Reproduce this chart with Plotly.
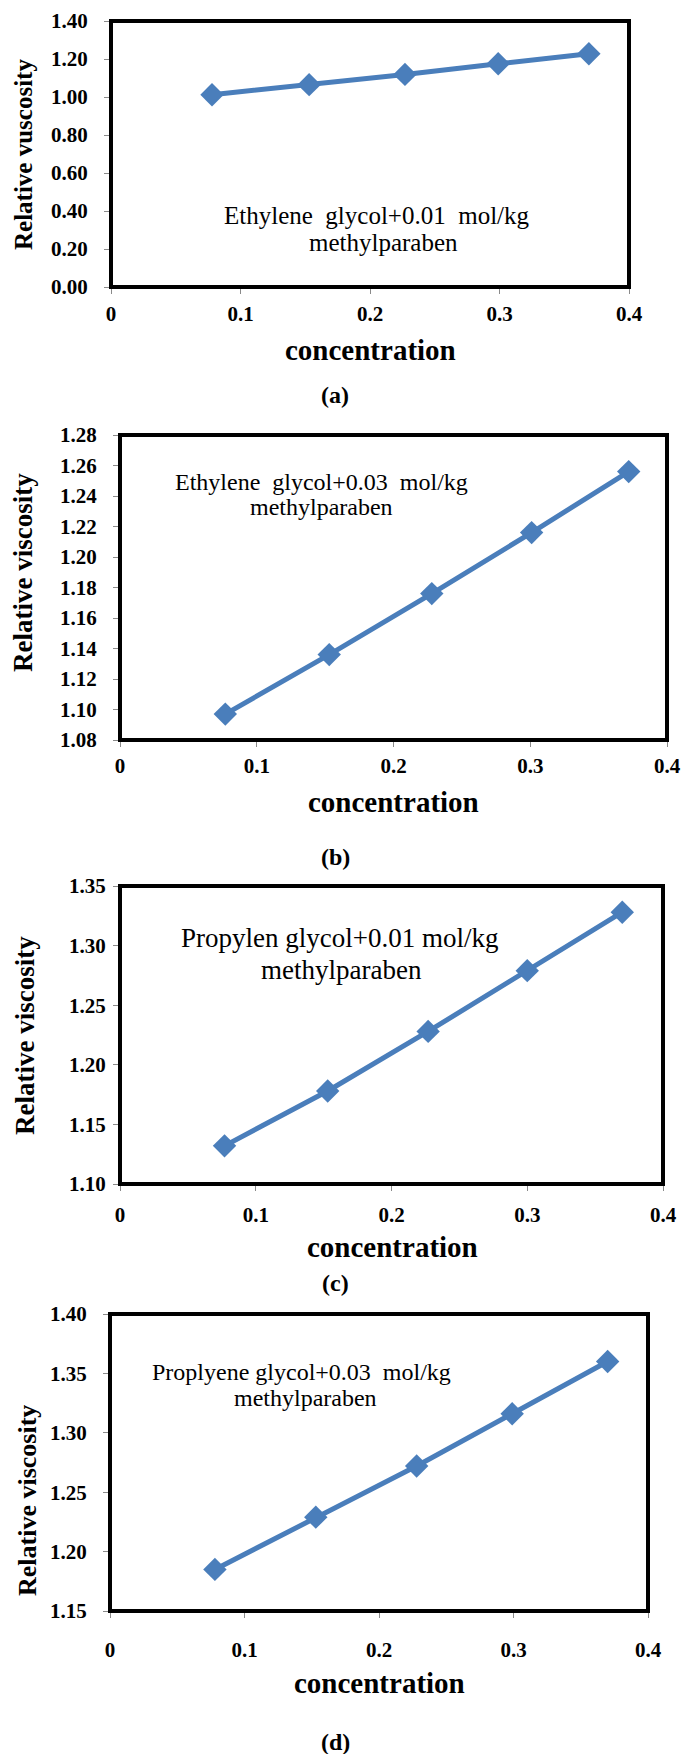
import plotly.graph_objects as go

W, H = 686, 1754

# concentration (x) and relative viscosity (y)
conc_a = [0.078, 0.153, 0.227, 0.299, 0.369]
visc_a = [1.012, 1.065, 1.119, 1.175, 1.228]
conc_b = [0.077, 0.153, 0.228, 0.301, 0.372]
visc_b = [1.097, 1.136, 1.176, 1.216, 1.256]
conc_c = [0.077, 0.153, 0.227, 0.300, 0.370]
visc_c = [1.132, 1.178, 1.228, 1.279, 1.328]
conc_d = [0.078, 0.153, 0.228, 0.299, 0.370]
visc_d = [1.185, 1.229, 1.272, 1.316, 1.360]

x_tickvals = [0, 0.1, 0.2, 0.3, 0.4]
x_ticktext = ["0", "0.1", "0.2", "0.3", "0.4"]
yticks_a = [0.0, 0.2, 0.4, 0.6, 0.8, 1.0, 1.2, 1.4]
yticks_b = [1.08, 1.10, 1.12, 1.14, 1.16, 1.18, 1.20, 1.22, 1.24, 1.26, 1.28]
yticks_c = [1.10, 1.15, 1.20, 1.25, 1.30, 1.35]
yticks_d = [1.15, 1.20, 1.25, 1.30, 1.35, 1.40]

labels = ["(a)", "(b)", "(c)", "(d)"]
ytitles = ["Relative vuscosity", "Relative viscosity", "Relative viscosity", "Relative viscosity"]
notes = [
    ("Ethylene\u00a0 glycol+0.01\u00a0 mol/kg", "methylparaben"),
    ("Ethylene\u00a0 glycol+0.03\u00a0 mol/kg", "methylparaben"),
    ("Propylen glycol+0.01 mol/kg", "methylparaben"),
    ("Proplyene glycol+0.03\u00a0 mol/kg", "methylparaben"),
]

FONT = "Liberation Serif"
BLUE = "#4a7ebb"

# pixel layout of each panel: plot box (left, right, top, bottom) and text positions
panels = [
    dict(box=(111, 629, 21, 287), yr=(0, 1.4), yt=yticks_a, data=(conc_a, visc_a),
         note=((377, 215), (383, 243), 25), xt=(370, 350), ytl=(23, 155, 25), lab=395,
         ystand=12, xstand=2),
    dict(box=(120, 667, 435, 740), yr=(1.08, 1.28), yt=yticks_b, data=(conc_b, visc_b),
         note=((321, 482), (321, 507), 24), xt=(394, 802), ytl=(23, 573, 27), lab=857,
         ystand=12, xstand=1),
    dict(box=(120, 663, 886, 1184), yr=(1.10, 1.35), yt=yticks_c, data=(conc_c, visc_c),
         note=((339, 938), (341, 970), 27), xt=(392, 1247), ytl=(25, 1036, 27), lab=1283,
         ystand=3, xstand=6),
    dict(box=(110, 648, 1314, 1611), yr=(1.15, 1.40), yt=yticks_d, data=(conc_d, visc_d),
         note=((301, 1372), (305, 1398), 24), xt=(379, 1683), ytl=(27, 1501, 26), lab=1742,
         ystand=12, xstand=14),
]


def px(x):
    return x / W


def py(y):
    return 1 - y / H


fig = go.Figure()
annotations = []
shapes = []

for i, p in enumerate(panels):
    n = "" if i == 0 else str(i + 1)
    l, r, t, b = p["box"]
    xs, ys = p["data"]
    fig.add_trace(go.Scatter(
        x=xs, y=ys, xaxis="x" + n, yaxis="y" + n,
        mode="lines+markers",
        line=dict(color=BLUE, width=5),
        marker=dict(symbol="diamond", size=18, color=BLUE),
        showlegend=False, hoverinfo="x+y"
    ))

    tickfont = dict(family=FONT, size=21, color="black", weight="bold")
    fig.update_layout({
        "xaxis" + n: dict(
            domain=[px(l), px(r)], anchor="y" + n, range=[0, 0.4], automargin=False,
            tickvals=x_tickvals, ticktext=x_ticktext,
            ticks="outside", ticklen=6, tickcolor="#8a8a8a", tickwidth=1,
            ticklabelstandoff=p["xstand"],
            showgrid=False, zeroline=False, showline=False, tickfont=tickfont,
        ),
        "yaxis" + n: dict(
            domain=[py(b), py(t)], anchor="x" + n, range=list(p["yr"]), automargin=False,
            tickvals=p["yt"], tickformat=".2f",
            ticks="outside", ticklen=6, tickcolor="#8a8a8a", tickwidth=1,
            ticklabelstandoff=p["ystand"],
            showgrid=False, zeroline=False, showline=False, tickfont=tickfont,
        ),
    })

    # black plot-area frame
    shapes.append(dict(type="rect", xref="x" + n + " domain", yref="y" + n + " domain",
                       x0=0, x1=1, y0=0, y1=1, line=dict(color="black", width=4)))

    # two-line note inside the plot, one annotation per line to keep the tight spacing
    (x1, y1), (x2, y2), ns = p["note"]
    for text, nx, ny in ((notes[i][0], x1, y1), (notes[i][1], x2, y2)):
        annotations.append(dict(x=px(nx), y=py(ny), xref="paper", yref="paper", text=text,
                                showarrow=False, xanchor="center", yanchor="middle",
                                font=dict(family=FONT, size=ns, color="black")))
    tx, ty = p["xt"]
    annotations.append(dict(x=px(tx), y=py(ty), xref="paper", yref="paper", text="concentration",
                            showarrow=False, xanchor="center", yanchor="middle",
                            font=dict(family=FONT, size=29, color="black", weight="bold")))
    yx, yy, ysz = p["ytl"]
    annotations.append(dict(x=px(yx), y=py(yy), xref="paper", yref="paper", text=ytitles[i],
                            showarrow=False, xanchor="center", yanchor="middle", textangle=-90,
                            font=dict(family=FONT, size=ysz, color="black", weight="bold")))
    annotations.append(dict(x=px(335), y=py(p["lab"]), xref="paper", yref="paper", text=labels[i],
                            showarrow=False, xanchor="center", yanchor="middle",
                            font=dict(family=FONT, size=24, color="black", weight="bold")))

fig.update_layout(
    width=W, height=H,
    margin=dict(l=0, r=0, t=0, b=0, autoexpand=False),
    paper_bgcolor="white", plot_bgcolor="white",
    annotations=annotations, shapes=shapes,
)

# drop the browser's default body margin so the figure fills the window exactly
fig.write_html("out.html", config={"displayModeBar": False},
               post_script="document.body.style.margin='0';")
